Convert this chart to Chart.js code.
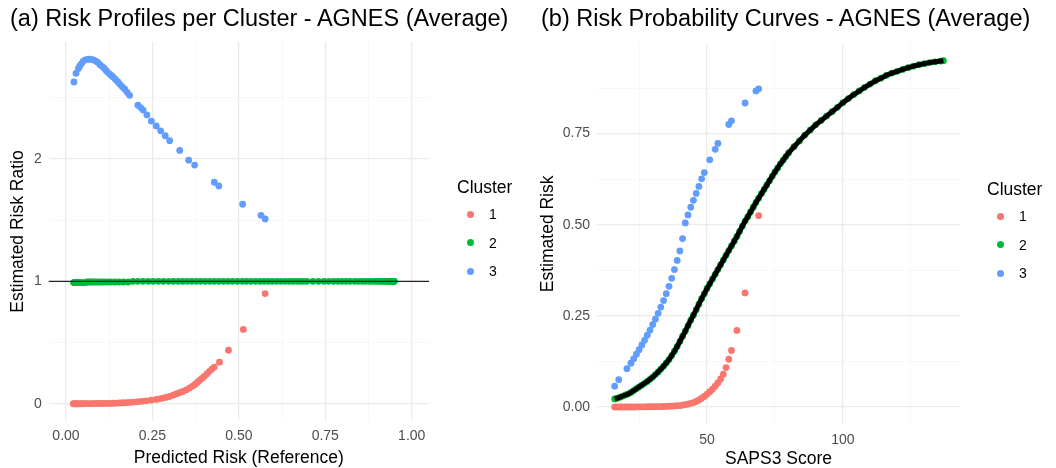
<!DOCTYPE html>
<html>
<head>
<meta charset="utf-8">
<script src="https://cdn.jsdelivr.net/npm/chart.js@4.4.0/dist/chart.umd.min.js"></script>
<style>
body{margin:0;background:#fff;width:1056px;height:468px;overflow:hidden;position:relative;font-family:"Liberation Sans",Arial,sans-serif}
canvas{position:absolute;top:0}
#riskA{left:0}
#riskB{left:528px}
.ttl{position:absolute;top:4px;font-size:23.5px;line-height:28px;white-space:nowrap;color:#000}
.lg{position:absolute;white-space:nowrap;color:#000}
.lgTitle{font-size:17.5px;line-height:20px}
.lgText{font-size:14px;line-height:16px}
.lgDot{position:absolute;width:7px;height:7px;border-radius:50%}
</style>
</head>
<body>
<canvas id="riskA" width="528" height="468"></canvas>
<canvas id="riskB" width="528" height="468"></canvas>
<div class="ttl" style="left:10px">(a) Risk Profiles per Cluster - AGNES (Average)</div>
<div class="ttl" style="left:541px">(b) Risk Probability Curves - AGNES (Average)</div>
<script>
const clusters=["1","2","3"];
const clusterColors=["#F8766D","#00BA38","#619CFF"];

// panel (a): reference risk (x) vs estimated risk ratio (y)
const c1RefA=[.021,.025,.030,.035,.040,.046,.052,.058,.064,.071,.078,.086,.094,.102,.110,.119,.128,.136,.145,.155,.165,.175,.184,.196,.208,.220,.232,.246,.261,.270,.280,.290,.300,.310,.319,.328,.338,.348,.357,.365,.372,.379,.386,.393,.400,.408,.415,.422,.429,.444,.470,.513,.576];
const c1Ratio=[0,0,0,0,0,0,.001,.001,.001,.001,.001,.002,.002,.002,.003,.003,.003,.004,.005,.006,.008,.009,.011,.014,.017,.020,.024,.029,.035,.040,.046,.053,.060,.070,.080,.090,.100,.114,.128,.142,.156,.172,.190,.207,.224,.245,.265,.283,.300,.340,.437,.607,.900];
const c3RefA=[.023,.029,.036,.040,.045,.050,.056,.064,.071,.079,.086,.092,.098,.105,.111,.117,.124,.130,.136,.143,.150,.156,.163,.170,.177,.184,.208,.216,.223,.234,.247,.261,.274,.287,.300,.329,.355,.372,.429,.442,.511,.564,.576];
const c3Ratio=[2.63,2.70,2.74,2.76,2.78,2.80,2.81,2.815,2.815,2.81,2.80,2.79,2.77,2.755,2.74,2.72,2.70,2.685,2.67,2.65,2.63,2.61,2.59,2.57,2.545,2.52,2.44,2.42,2.40,2.36,2.31,2.27,2.23,2.19,2.15,2.07,1.99,1.95,1.81,1.78,1.63,1.54,1.51];
const c2Ratio=[.99,.99,.99,.99,.99,.99,.99,.99,.99,.99,.995,.995,.995,.995,.995,.995,.995,.995,.995,.995,.995,.995,.995,.995,.995,
1,1,1,1,1,1,1,1,1,1,1,1,1,1,1,1,1,1,1,1,1,1,1,1,1,1,1,1,1,1,1,1,1,1,1,1,1,1,1,1,
1,1,1,1,1,1,1,1,1,1,1,1,1,1,1,1,1,1,1,1,1,1,1,1,1,1,1,1,1];
const ratioLine=1;

// panel (b): SAPS3 score (x) vs estimated risk (y); cluster 2 is the reference curve
const c2Saps=[16,17,18,19,20,21,22,23,24,25,26,27,28,29,30,31,32,33,34,35,36,37,38,39,40,41,42,43,44,45,46,47,48,49,50,51,52,53,54,55,56,57,58,59,60,61,62,63,64,65,66,67,68,69,70,71,72,73,74,75,76,77,78,79,80,
82,84,86,88,90,92,94,96,98,100,102,104,106,108,110,112,114,116,118,120,122,124,126,128,130,132,134,136,137];
const c2Risk=[.022,.024,.027,.030,.033,.036,.040,.045,.050,.055,.060,.065,.070,.076,.082,.089,.096,.104,.112,.121,.130,.141,.153,.166,.180,.194,.208,.223,.238,.252,.267,.282,.297,.311,.325,.338,.351,.364,.377,.390,.403,.416,.429,.442,.455,.468,.482,.496,.510,.522,.535,.548,.561,.573,.585,.597,.609,.621,.633,.645,.656,.667,.677,.687,.697,
.714,.730,.746,.760,.774,.786,.798,.810,.822,.835,.846,.857,.867,.877,.886,.895,.902,.910,.916,.921,.926,.931,.935,.939,.942,.945,.947,.949,.950];
const c1Saps=[16,17,18,19,20,21,22,23,24,25,26,27,28,29,30,31,32,33,34,35,36,37,38,39,40,41,42,43,44,45,46,47,48,49,50,51,52,53,54,55,56,57,58,59,61,64,69];
const c1Risk=[0,0,0,0,0,0,0,0,.0005,.0005,.0005,.0005,.0006,.0007,.0008,.001,.001,.0012,.0014,.0016,.002,.0025,.003,.0035,.004,.005,.0065,.008,.010,.012,.015,.019,.024,.029,.035,.042,.049,.057,.066,.077,.090,.108,.131,.155,.210,.313,.525];
const c3Saps=[16,17.5,20.5,22,23,24,25,26,27,28,29,30,31,32,33,34,35,36,37,38,39,40,41,42,43,44,45,46,47,48,49,51,53,54,58,59,64,68,69];
const c3Risk=[.057,.075,.105,.12,.132,.145,.157,.17,.183,.197,.211,.226,.241,.257,.274,.292,.311,.331,.353,.377,.402,.428,.462,.505,.527,.548,.567,.586,.605,.626,.643,.678,.707,.723,.775,.785,.834,.867,.873];

// axis breaks and labels
const aXBreaks=[0,.25,.5,.75,1], aXLabels=["0.00","0.25","0.50","0.75","1.00"], aXMinor=[.125,.375,.625,.875];
const aYBreaks=[0,1,2], aYLabels=["0","1","2"], aYMinor=[.5,1.5,2.5];
const bXBreaks=[50,100], bXLabels=["50","100"], bXMinor=[25,75,125];
const bYBreaks=[0,.25,.5,.75], bYLabels=["0.00","0.25","0.50","0.75"], bYMinor=[.125,.375,.625,.875];

Chart.defaults.font.family='"Liberation Sans", Arial, sans-serif';
Chart.defaults.animation=false;

const pts=(xs,ys)=>xs.map((x,i)=>({x:x,y:ys[i]}));

function axis(breaks,labels,minor,min,max,title,size,titlePad){
return{
type:"linear",min:min,max:max,
afterBuildTicks:s=>{s.ticks=breaks.concat(minor).sort((a,b)=>a-b).map(v=>({value:v}));},
afterFit:s=>{if(s.isHorizontal())s.height=size;else s.width=size;},
grid:{drawTicks:false,
color:c=>breaks.includes(c.tick.value)?"#EBEBEB":"#F3F3F3",
lineWidth:c=>breaks.includes(c.tick.value)?1.3:0.7},
border:{display:false},
ticks:{autoSkip:false,maxRotation:0,padding:7,color:"#4D4D4D",font:{size:14},
callback:v=>{const i=breaks.indexOf(v);return i<0?"":labels[i];}},
title:{display:true,text:title,color:"#000",font:{size:17.5,lineHeight:1},padding:titlePad}
};
}

function dots(label,data,color,order){
return{label:label,data:data,backgroundColor:color,borderWidth:0,pointRadius:3.4,pointHoverRadius:3.4,order:order};
}

const refLine={
id:"refLine",
afterDatasetsDraw(chart){
const {ctx,chartArea:a,scales:{y}}=chart;
const py=y.getPixelForValue(ratioLine);
ctx.save();
ctx.strokeStyle="#222";
ctx.lineWidth=1.4;
ctx.beginPath();ctx.moveTo(a.left,py);ctx.lineTo(a.right,py);ctx.stroke();
ctx.restore();
}
};

new Chart(document.getElementById("riskA"),{
type:"scatter",
data:{datasets:[
dots(clusters[0],pts(c1RefA,c1Ratio),clusterColors[0],3),
dots(clusters[1],pts(c2Risk,c2Ratio),clusterColors[1],2),
dots(clusters[2],pts(c3RefA,c3Ratio),clusterColors[2],1)
]},
options:{
responsive:false,events:[],
layout:{padding:{left:10,right:99,top:42,bottom:0}},
plugins:{legend:{display:false},tooltip:{enabled:false}},
scales:{
x:axis(aXBreaks,aXLabels,aXMinor,-0.05,1.05,"Predicted Risk (Reference)",47,{top:0,bottom:1}),
y:axis(aYBreaks,aYLabels,aYMinor,-0.141,2.956,"Estimated Risk Ratio",38.7,{top:-0.75,bottom:0})
}
},
plugins:[refLine]
});

new Chart(document.getElementById("riskB"),{
type:"scatter",
data:{datasets:[
dots(clusters[0],pts(c1Saps,c1Risk),clusterColors[0],4),
dots(clusters[1],pts(c2Saps,c2Risk),clusterColors[1],3),
dots(clusters[2],pts(c3Saps,c3Risk),clusterColors[2],2),
{label:"reference",data:pts(c2Saps,c2Risk),showLine:true,borderColor:"#000",borderWidth:5,pointRadius:0,order:1}
]},
options:{
responsive:false,events:[],
layout:{padding:{left:13,right:96,top:43.4,bottom:0}},
plugins:{legend:{display:false},tooltip:{enabled:false}},
scales:{
x:axis(bXBreaks,bXLabels,bXMinor,9.5,143.1,"SAPS3 Score",43.7,{top:0,bottom:0}),
y:axis(bYBreaks,bYLabels,bYMinor,-0.0475,0.9975,"Estimated Risk",56,{top:-1.75,bottom:0})
}
}
});

// ggplot-style legends
function legend(left,top){
const t=document.createElement("div");
t.className="lg lgTitle";t.textContent="Cluster";
t.style.left=left+"px";t.style.top=(top-10)+"px";
document.body.appendChild(t);
clusters.forEach((c,i)=>{
const cy=top+27+i*28.5;
const d=document.createElement("div");
d.className="lgDot";d.style.background=clusterColors[i];
d.style.left=(left+13.7-3.5)+"px";d.style.top=(cy-3.5)+"px";
document.body.appendChild(d);
const l=document.createElement("div");
l.className="lg lgText";l.textContent=c;
l.style.left=(left+32)+"px";l.style.top=(cy-8)+"px";
document.body.appendChild(l);
});
}
legend(457,187);
legend(987,189);
</script>
</body>
</html>
